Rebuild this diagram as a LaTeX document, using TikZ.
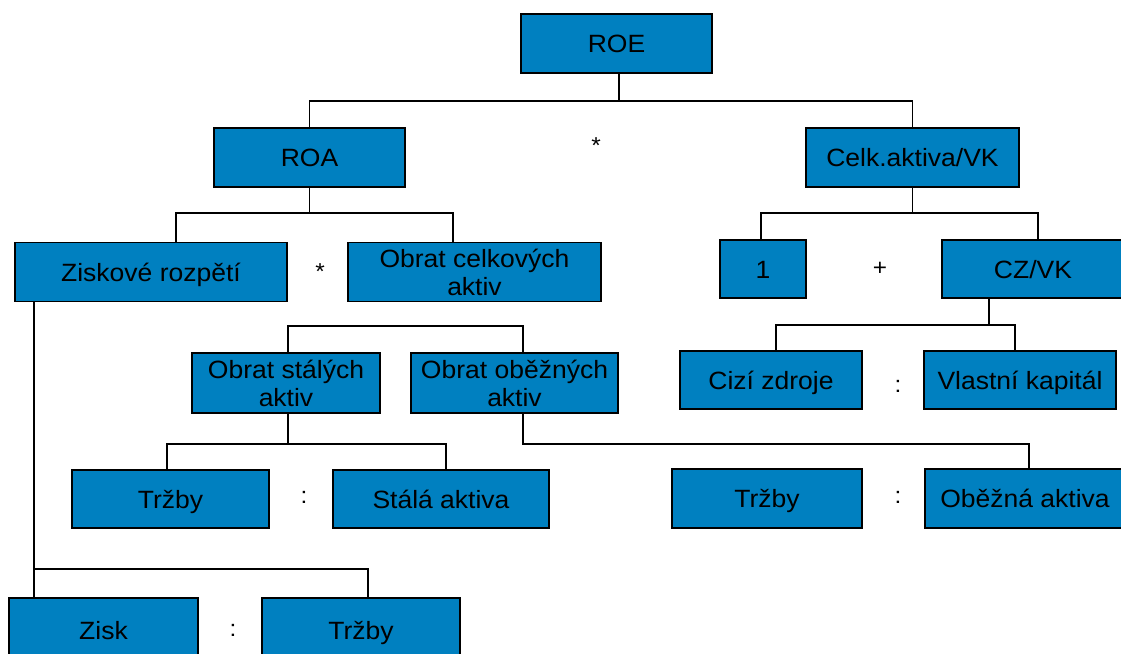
\documentclass[tikz,border=0pt]{standalone}
\usepackage{fontspec}
\setmainfont[FakeStretch=1.06]{Liberation Sans}
\definecolor{boxblue}{RGB}{0,128,192}
\begin{document}
\begin{tikzpicture}[x=1pt,y=-1pt,
  box/.style={draw=black, line width=1.5pt, fill=boxblue, inner sep=0pt, align=center,
    text height=22pt, text depth=4pt,
    font=\fontsize{25}{28}\selectfont},
  twoline/.style={text height=50pt, text depth=4pt},
  conn/.style={draw=black, line width=1.5pt},
  op/.style={inner sep=0pt, font=\fontsize{23}{26}\selectfont}]
\clip (0,0) rectangle (1121,653);
\fill[white] (0,0) rectangle (1121,653);
% boxes
\node[box, minimum width=191, minimum height=59] (roe) at (616.5,43.5) {ROE};
\node[box, minimum width=191, minimum height=59] (roa) at (309.5,157.5) {ROA};
\node[box, minimum width=213, minimum height=59] (celk) at (912.5,157.5) {Celk.aktiva/VK};
\node[box, minimum width=272, minimum height=59] (zr) at (151,272) {Ziskové rozpětí};
\node[box, twoline, minimum width=253, minimum height=59] (obratc) at (474.5,272) {Obrat celkových\\aktiv};
\node[box, minimum width=86, minimum height=58] (one) at (763,269) {1};
\node[box, minimum width=182, minimum height=58] (czvk) at (1033,269) {CZ/VK};
\node[box, twoline, minimum width=188, minimum height=60] (obrats) at (286,383) {Obrat stálých\\aktiv};
\node[box, twoline, minimum width=207, minimum height=60] (obrato) at (514.5,383) {Obrat oběžných\\aktiv};
\node[box, minimum width=182, minimum height=58] (cizi) at (771,380) {Cizí zdroje};
\node[box, minimum width=192, minimum height=58] (vlastni) at (1020,380) {Vlastní kapitál};
\node[box, minimum width=197, minimum height=58] (trzbyA) at (170.5,499) {Tržby};
\node[box, minimum width=216, minimum height=58] (stala) at (441,499) {Stálá aktiva};
\node[box, minimum width=190, minimum height=59] (trzbyB) at (767,498.5) {Tržby};
\node[box, minimum width=200, minimum height=59] (obezna) at (1025,498.5) {Oběžná aktiva};
\node[box, minimum width=189, minimum height=64] (zisk) at (103.5,630) {Zisk};
\node[box, minimum width=198, minimum height=64] (trzbyC) at (361,630) {Tržby};
% operators
\node[op] (s1) at (596,146) {*};
\node[op] (s2) at (320,272) {*};
\node[op] (p1) at (880,269) {+};
\node[op] (c1) at (898,386) {:};
\node[op] (c2) at (304,497) {:};
\node[op] (c3) at (898,497) {:};
\node[op] (c4) at (233,630) {:};
% junction coordinates
\coordinate (j0) at (619,101);
\coordinate (ja) at (176,213);
\coordinate (jb) at (453,213);
\coordinate (jc) at (761,213);
\coordinate (jd) at (1038,213);
\coordinate (je) at (776,325);
\coordinate (jf) at (1015,325);
\coordinate (jg) at (288,326);
\coordinate (jh) at (523,326);
\coordinate (ji) at (167,444);
\coordinate (jj) at (446,444);
\coordinate (jk) at (523,444);
\coordinate (jl) at (1029,444);
\coordinate (jm) at (34,569);
\coordinate (jn) at (368,569);
% connectors
\draw[conn] (roe.south -| j0) -- (j0);
\draw[conn] (roa.north) -- (roa.north |- j0) -- (celk.north |- j0) -- (celk.north);
\draw[conn] (roa.south) -- (roa.south |- ja);
\draw[conn] (ja |- zr.north) -- (ja) -- (jb) -- (jb |- obratc.north);
\draw[conn] (celk.south) -- (celk.south |- jc);
\draw[conn] (jc |- one.north) -- (jc) -- (jd) -- (jd |- czvk.north);
\draw[conn] (czvk.south -| 989,0) -- (989,325);
\draw[conn] (je |- cizi.north) -- (je) -- (jf) -- (jf |- vlastni.north);
\draw[conn] (jg |- obrats.north) -- (jg) -- (jh) -- (jh |- obrato.north);
\draw[conn] (obrats.south -| jg) -- (jg |- ji);
\draw[conn] (ji |- trzbyA.north) -- (ji) -- (jj) -- (jj |- stala.north);
\draw[conn] (obrato.south -| jk) -- (jk) -- (jl) -- (jl |- obezna.north);
\draw[conn] (zr.south -| jm) -- (jm |- zisk.north);
\draw[conn] (jm) -- (jn) -- (jn |- trzbyC.north);
\end{tikzpicture}
\end{document}
